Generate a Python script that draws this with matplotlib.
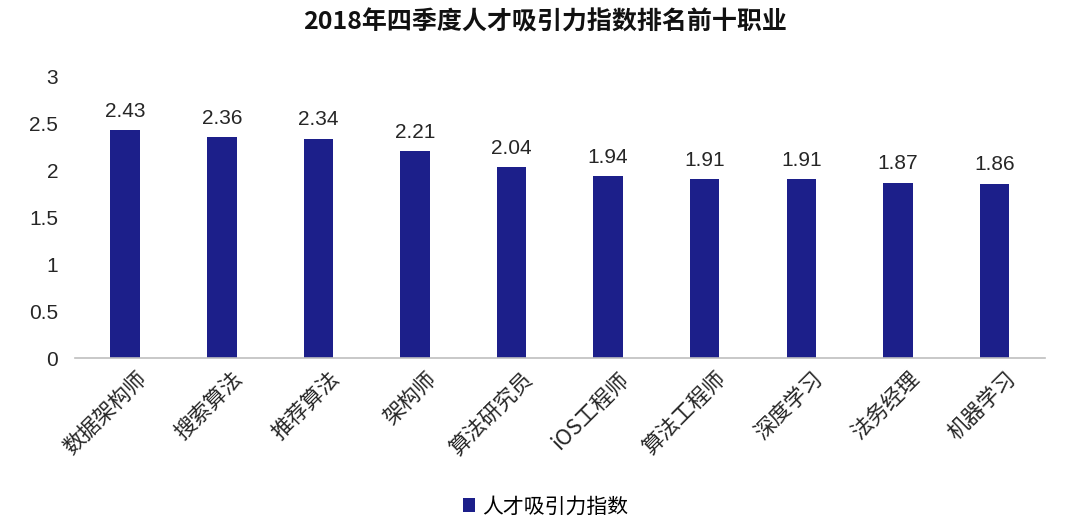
import matplotlib

matplotlib.use("Agg")
import matplotlib.pyplot as plt
from matplotlib.transforms import ScaledTranslation

plt.rcParams["font.family"] = ["Noto Sans CJK SC", "DejaVu Sans"]

# data
jobs = ["数据架构师", "搜索算法", "推荐算法", "架构师", "算法研究员",
        "iOS工程师", "算法工程师", "深度学习", "法务经理", "机器学习"]
index_values = [2.43, 2.36, 2.34, 2.21, 2.04, 1.94, 1.91, 1.91, 1.87, 1.86]
y_ticks = [0, 0.5, 1, 1.5, 2, 2.5, 3]
y_tick_labels = ["0", "0.5", "1", "1.5", "2", "2.5", "3"]

BAR_COLOR = "#1c1f8a"
TEXT_COLOR = "#262626"
NUM_FONT = ["Liberation Sans", "DejaVu Sans"]

fig = plt.figure(figsize=(10.8, 5.23), dpi=100)
ax = fig.add_axes([0.0694, 0.315, 0.898, 0.538])

xs = list(range(len(jobs)))
bars = ax.bar(xs, index_values, width=0.305, color=BAR_COLOR, zorder=2,
              label="人才吸引力指数")

for x, v in zip(xs, index_values):
    ax.text(x, v + 0.1, f"{v:.2f}", ha="center", va="bottom",
            fontsize=15, color=TEXT_COLOR, family=NUM_FONT)

ax.set_ylim(0, 3)
ax.set_xlim(-0.52, len(jobs) - 0.48)
ax.set_yticks(y_ticks)
ax.set_yticklabels(y_tick_labels, fontsize=15, color=TEXT_COLOR, family=NUM_FONT)
ax.tick_params(axis="y", length=0, pad=12)
ax.set_xticks(xs)
ax.set_xticklabels(jobs, rotation=45, ha="right", rotation_mode="anchor",
                   fontsize=15.5, color=TEXT_COLOR)
ax.tick_params(axis="x", length=0, pad=7)
# rotated labels end a little right of the bar centre in the reference
shift = ScaledTranslation(0.1, 0, fig.dpi_scale_trans)
for lbl in ax.get_xticklabels():
    lbl.set_transform(lbl.get_transform() + shift)

for side in ("left", "right", "top"):
    ax.spines[side].set_visible(False)
ax.spines["bottom"].set_color("#bfbfbf")
ax.spines["bottom"].set_linewidth(1.2)

fig.suptitle("2018年四季度人才吸引力指数排名前十职业", x=0.505, y=0.98,
             fontsize=18, fontweight="bold", color="#111111")

fig.legend(handles=[bars], loc="lower center", bbox_to_anchor=(0.505, -0.025),
           frameon=False, fontsize=15, handlelength=0.6, handleheight=0.6,
           handletextpad=0.3)

fig.savefig("out.png", dpi=100, facecolor="white")
plt.close(fig)
